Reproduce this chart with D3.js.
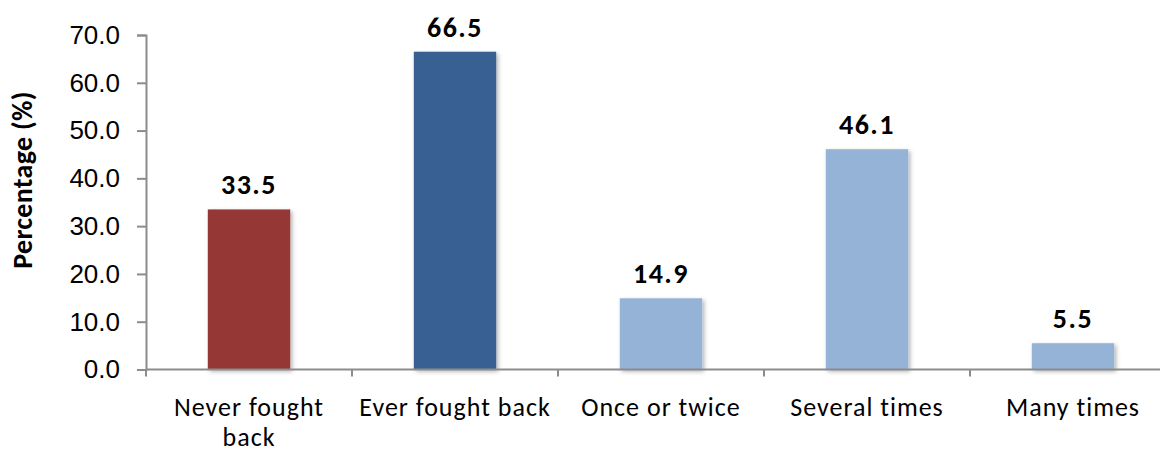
<!DOCTYPE html>
<html>
<head>
<meta charset="utf-8">
<script src="https://cdn.jsdelivr.net/npm/d3@7"></script>
<style>
body { margin: 0; background: #fff; }
svg { font-family: Carlito, "Liberation Sans", Arial, sans-serif; }
</style>
</head>
<body>
<svg id="chart"></svg>
<script>
var width = 1160;
var height = 453;

var categories = ["Never fought back", "Ever fought back", "Once or twice", "Several times", "Many times"];
var values = [33.5, 66.5, 14.9, 46.1, 5.5];
var colors = ["#953735", "#376092", "#95b3d7", "#95b3d7", "#95b3d7"];
var yTicks = [0, 10, 20, 30, 40, 50, 60, 70];

var svg = d3.select("#chart").attr("width", width).attr("height", height);

var defs = svg.append("defs");
var filter = defs.append("filter").attr("id", "shadow")
    .attr("x", "-10%").attr("y", "-10%").attr("width", "130%").attr("height", "130%");
filter.append("feDropShadow")
    .attr("dx", 2).attr("dy", 2).attr("stdDeviation", 2)
    .attr("flood-color", "#000").attr("flood-opacity", 0.3);

var x = d3.scaleBand().domain(categories).range([146, 1176]).paddingInner(0.6).paddingOuter(0.3);
var y = d3.scaleLinear().domain([0, 70]).range([369.5, 35]);

// y axis
var yAxis = svg.append("g")
    .attr("transform", "translate(146,0)")
    .call(d3.axisLeft(y).tickValues(yTicks).tickSize(9).tickPadding(17)
        .tickFormat(function (d) { return d3.format(".1f")(d); }));
yAxis.select(".domain").attr("stroke", "#8c8c8c").attr("stroke-width", 2);
yAxis.selectAll(".tick line").attr("stroke", "#8c8c8c").attr("stroke-width", 2);
yAxis.selectAll(".tick text").style("font-size", "26px").attr("fill", "#000");

svg.append("text")
    .attr("transform", "translate(32,180) rotate(-90)")
    .attr("text-anchor", "middle")
    .style("font-size", "28px")
    .style("font-weight", "bold")
    .style("letter-spacing", "0.3px")
    .text("Percentage (%)");

// bars
svg.append("g").selectAll("rect")
    .data(values)
    .enter().append("rect")
    .attr("x", function (d, i) { return x(categories[i]); })
    .attr("y", function (d) { return y(d); })
    .attr("width", x.bandwidth())
    .attr("height", function (d) { return y(0) - y(d); })
    .attr("fill", function (d, i) { return colors[i]; })
    .attr("filter", "url(#shadow)");

// value labels
svg.append("g").selectAll("text")
    .data(values)
    .enter().append("text")
    .attr("x", function (d, i) { return x(categories[i]) + x.bandwidth() / 2; })
    .attr("y", function (d) { return y(d) - 15; })
    .attr("text-anchor", "middle")
    .style("font-size", "28px")
    .style("font-weight", "bold")
    .style("letter-spacing", "1.5px")
    .text(function (d) { return d3.format(".1f")(d); });

// x axis
var xAxisG = svg.append("g").attr("transform", "translate(0," + y(0) + ")");
xAxisG.append("line")
    .attr("x1", 146).attr("x2", width)
    .attr("stroke", "#8c8c8c").attr("stroke-width", 2);
var bounds = [146].concat(categories.map(function (c) { return x(c) + x.bandwidth() + x.step() * x.paddingInner() / 2; }));
xAxisG.selectAll("line.tick")
    .data(bounds)
    .enter().append("line")
    .attr("class", "tick")
    .attr("x1", function (d) { return d; }).attr("x2", function (d) { return d; })
    .attr("y1", 0).attr("y2", 7)
    .attr("stroke", "#8c8c8c").attr("stroke-width", 2);

var xLabels = [["Never fought", "back"], ["Ever fought back"], ["Once or twice"], ["Several times"], ["Many times"]];
var lbl = xAxisG.selectAll("text.cat")
    .data(xLabels)
    .enter().append("text")
    .attr("class", "cat")
    .attr("text-anchor", "middle")
    .style("font-size", "26px")
    .style("letter-spacing", "1px")
    .attr("transform", function (d, i) { return "translate(" + (x(categories[i]) + x.bandwidth() / 2) + ",46)"; });
lbl.selectAll("tspan")
    .data(function (d) { return d; })
    .enter().append("tspan")
    .attr("x", 0)
    .attr("dy", function (d, i) { return i === 0 ? 0 : 30; })
    .text(function (d) { return d; });
</script>
</body>
</html>
